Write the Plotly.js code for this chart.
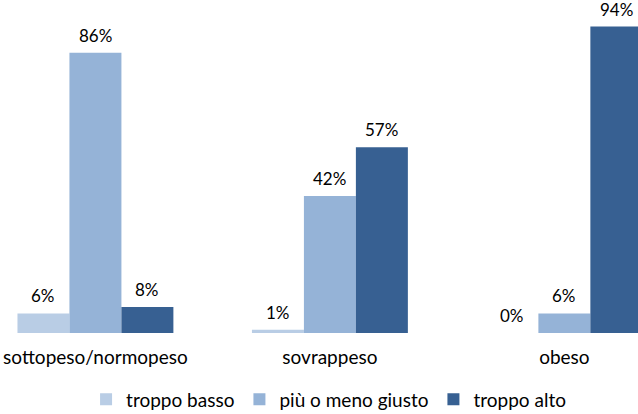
<!DOCTYPE html>
<html><head><meta charset="utf-8">
<script src="https://cdn.plot.ly/plotly-3.0.1.min.js"></script>
<style>html,body{margin:0;padding:0;background:#fff}#chart{width:638px;height:414px}</style>
</head><body><div id="chart"></div>
<script>
const categories = ["sottopeso/normopeso", "sovrappeso", "obeso"];
const seriesNames = ["troppo basso", "più o meno giusto", "troppo alto"];
const troppoBasso = [6, 1, 0];
const piuOMenoGiusto = [86, 42, 6];
const troppoAlto = [8, 57, 94];
const colors = ["#b9cde5", "#95b3d7", "#376092"];

const seriesValues = [troppoBasso, piuOMenoGiusto, troppoAlto];
const bargap = 0.335;
const barW = (1 - bargap) / seriesValues.length;

const traces = seriesValues.map((vals, i) => ({
  type: "bar",
  name: seriesNames[i],
  x: categories,
  y: vals,
  marker: {color: colors[i]},
  hoverinfo: "none"
}));

const annotations = [];
seriesValues.forEach((vals, i) => {
  vals.forEach((v, c) => {
    annotations.push({
      x: c + (i - 1) * barW, y: v, xref: "x", yref: "y",
      text: v + "%", showarrow: false, yanchor: "bottom", yshift: 6, borderpad: 0,
      font: {family: "Lato, sans-serif", size: 17, color: "#000"}
    });
  });
});

const layout = {
  width: 638, height: 414,
  margin: {l: 0, r: 0, t: 7, b: 81, autoexpand: false},
  paper_bgcolor: "#fff", plot_bgcolor: "#fff",
  barmode: "group",
  bargap: bargap,
  bargroupgap: 0,
  font: {family: "Lato, sans-serif", size: 17, color: "#000"},
  xaxis: {
    type: "category",
    range: [-0.407, 2.314],
    showline: false, showgrid: false, zeroline: false,
    ticks: "", tickfont: {size: 19, color: "#000"},
    ticklabelstandoff: 11
  },
  yaxis: {
    range: [0, 100], visible: false, showgrid: false, zeroline: false
  },
  annotations: annotations,
  showlegend: true,
  legend: {
    orientation: "h", x: 0.515, xanchor: "center", y: -0.262, yanchor: "bottom",
    font: {size: 19, color: "#000"}, itemwidth: 30, traceorder: "normal"
  }
};
Plotly.newPlot("chart", traces, layout, {displayModeBar: false, staticPlot: true});
</script></body></html>
